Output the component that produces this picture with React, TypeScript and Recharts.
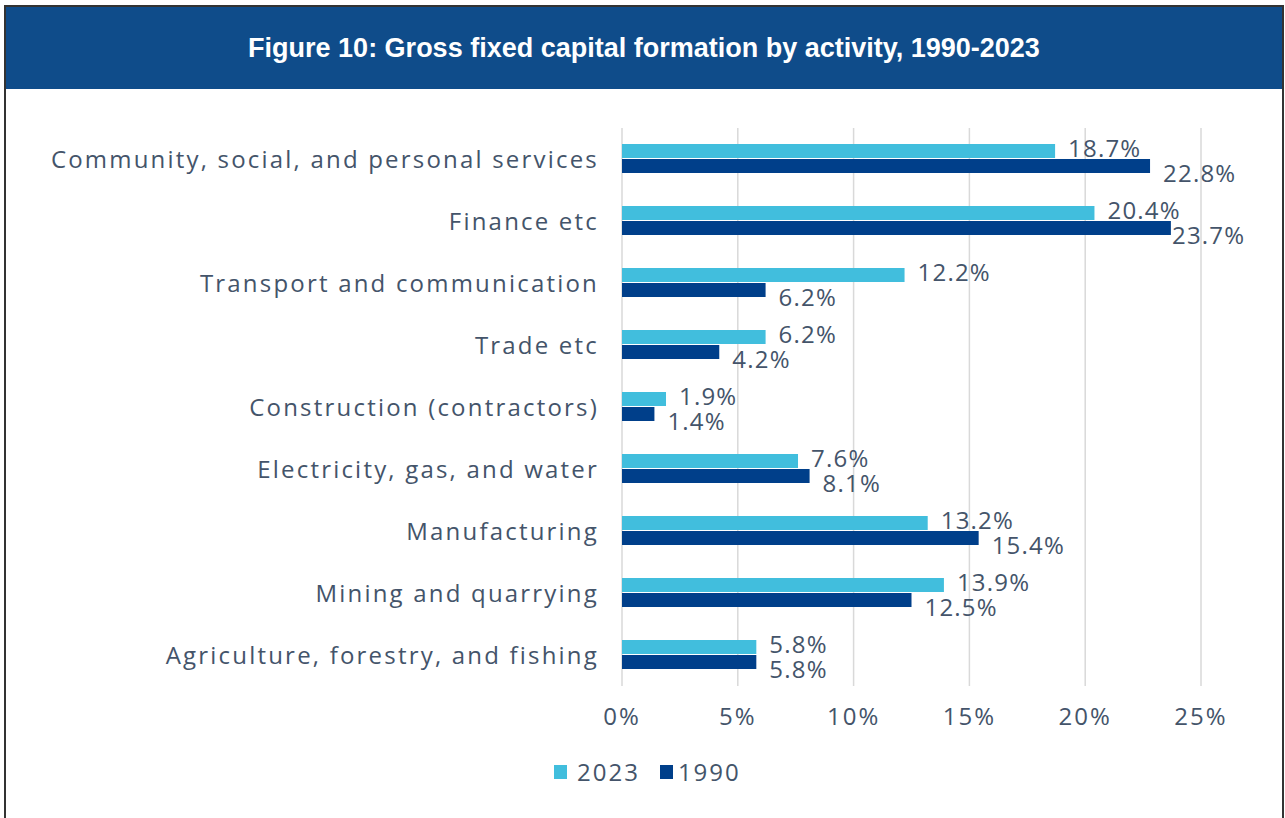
import React from "react";
import { BarChart, Bar, XAxis, YAxis, CartesianGrid, LabelList } from "recharts";

const categories = [
  "Community, social, and personal services",
  "Finance etc",
  "Transport and communication",
  "Trade etc",
  "Construction (contractors)",
  "Electricity, gas, and water",
  "Manufacturing",
  "Mining and quarrying",
  "Agriculture, forestry, and fishing",
];
const values2023 = [18.7, 20.4, 12.2, 6.2, 1.9, 7.6, 13.2, 13.9, 5.8];
const values1990 = [22.8, 23.7, 6.2, 4.2, 1.4, 8.1, 15.4, 12.5, 5.8];
const xTicks = [0, 5, 10, 15, 20, 25];
const seriesNames = ["2023", "1990"];

const data = categories.map((c, i) => ({ name: c, v2023: values2023[i], v1990: values1990[i] }));

const C2023 = "#41BEDD";
const C1990 = "#003F8A";
const TEXT = "#44546A";
const FONT = "'Open Sans', 'Noto Sans', sans-serif";
const LABEL_MAX_X = 1172;

const makeLabel = (dy: number) => (props: any) => {
  const { x, y, width, height, value } = props;
  const lx = Math.min(Number(x) + Number(width) + 13, LABEL_MAX_X);
  return (
    <text
      x={lx}
      y={Number(y) + Number(height) / 2 + dy}
      fill={TEXT}
      fontSize={24}
      fontFamily={FONT}
      letterSpacing={1.2}
      dominantBaseline="central"
    >
      {Number(value).toFixed(1)}%
    </text>
  );
};

export default function App() {
  return (
    <div style={{ position: "absolute", left: 0, top: 0, width: 1285, height: 818, background: "#fff", overflow: "hidden" }}>
      <div
        style={{
          position: "absolute",
          left: 4,
          top: 5,
          width: 1276,
          height: 830,
          borderLeft: "2px solid #333",
          borderRight: "2px solid #333",
          borderTop: "2px solid #333",
        }}
      />
      <div
        style={{
          position: "absolute",
          left: 6,
          top: 7,
          width: 1276,
          height: 82,
          background: "#0F4C8A",
          color: "#fff",
          fontFamily: "'Liberation Sans', Arial, sans-serif",
          fontWeight: "bold",
          fontSize: 27,
          display: "flex",
          alignItems: "center",
          justifyContent: "center",
        }}
      >
        Figure 10: Gross fixed capital formation by activity, 1990-2023
      </div>
      <div style={{ position: "absolute", left: 0, top: 0 }}>
        <BarChart
          width={1285}
          height={818}
          data={data}
          layout="vertical"
          margin={{ top: 128, right: 84, bottom: 92, left: 0 }}
          barCategoryGap="26%"
          barGap={1}
        >
          <CartesianGrid horizontal={false} vertical={true} stroke="#D9D9D9" strokeWidth={1.5} />
          <XAxis
            type="number"
            domain={[0, 25]}
            ticks={xTicks}
            tickFormatter={(v: number) => `${v}%`}
            axisLine={false}
            tickLine={false}
            tickSize={0}
            tickMargin={22}
            height={40}
            tick={{ fill: TEXT, fontSize: 24, fontFamily: FONT, letterSpacing: 2 }}
          />
          <YAxis
            type="category"
            dataKey="name"
            width={622}
            axisLine={false}
            tickLine={false}
            tickSize={0}
            tickMargin={23}
            tick={{ fill: TEXT, fontSize: 24, fontFamily: FONT, letterSpacing: 2.2 }}
          />
          <Bar dataKey="v2023" name={seriesNames[0]} fill={C2023} isAnimationActive={false}>
            <LabelList dataKey="v2023" content={makeLabel(-4)} />
          </Bar>
          <Bar dataKey="v1990" name={seriesNames[1]} fill={C1990} isAnimationActive={false}>
            <LabelList dataKey="v1990" content={makeLabel(6)} />
          </Bar>
        </BarChart>
      </div>
      <div
        style={{
          position: "absolute",
          left: 554,
          top: 755,
          display: "flex",
          alignItems: "center",
          fontFamily: FONT,
          fontSize: 24,
          letterSpacing: 2,
          color: TEXT,
        }}
      >
        <span style={{ width: 13, height: 14, background: C2023, display: "inline-block", marginRight: 10 }} />
        <span style={{ marginRight: 20 }}>{seriesNames[0]}</span>
        <span style={{ width: 13, height: 14, background: C1990, display: "inline-block", marginRight: 5 }} />
        <span>{seriesNames[1]}</span>
      </div>
    </div>
  );
}
